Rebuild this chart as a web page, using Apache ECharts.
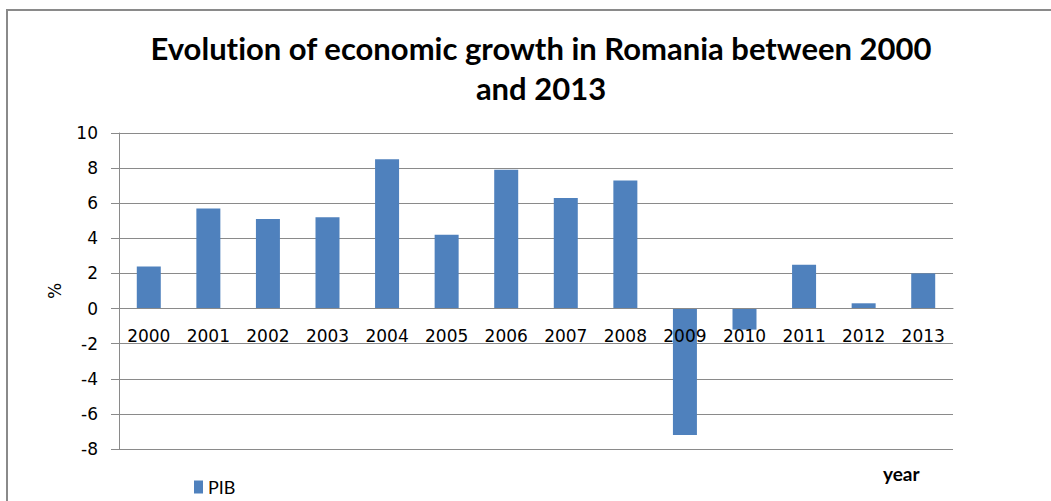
<!DOCTYPE html>
<html>
<head>
<meta charset="utf-8">
<script src="https://cdn.jsdelivr.net/npm/echarts@6/dist/echarts.min.js"></script>
<style>
  html, body { margin: 0; padding: 0; background: #fff; }
  #chart { width: 1051px; height: 501px; }
  #chart svg text { font-variant-ligatures: none; font-feature-settings: "liga" 0; }
</style>
</head>
<body>
<div id="chart"></div>
<script>
// Annual GDP growth of Romania, in percent
const years = ['2000', '2001', '2002', '2003', '2004', '2005', '2006',
               '2007', '2008', '2009', '2010', '2011', '2012', '2013'];
const pib = [2.4, 5.7, 5.1, 5.2, 8.5, 4.2, 7.9, 6.3, 7.3, -7.2, -1.2, 2.5, 0.3, 2.0];
const yTicks = { min: -8, max: 10, step: 2 };

const gridColor = '#8a8a8a';
const labelFont = 'DejaVu Sans';

// plot box
const gridTop = 133, gridBottom = 52, chartH = 501;
const plotH = chartH - gridTop - gridBottom;
// move the category axis from the bottom edge up to the value 0
const zeroFromBottom = plotH * (0 - yTicks.min) / (yTicks.max - yTicks.min);

const chart = echarts.init(document.getElementById('chart'), null, { renderer: 'svg' });

chart.setOption({
  backgroundColor: '#ffffff',
  animation: false,
  title: [
    {
      text: 'Evolution of economic growth in Romania between 2000\nand 2013',
      left: 536,
      top: 23,
      textAlign: 'center',
      textStyle: {
        fontFamily: 'Lato',
        fontWeight: 'bold',
        fontSize: 31,
        lineHeight: 40,
        color: '#000'
      }
    },
    {
      text: 'year',
      left: 878,
      top: 459,
      textStyle: {
        fontFamily: 'Lato',
        fontWeight: 'bold',
        fontSize: 19,
        color: '#000'
      }
    }
  ],
  legend: {
    left: 189,
    top: 473,
    icon: 'rect',
    itemWidth: 9,
    itemHeight: 13,
    itemGap: 4,
    textStyle: { fontFamily: 'Lato', fontSize: 18, color: '#000' },
    data: ['PIB']
  },
  grid: { left: 119, right: 98, top: gridTop, bottom: gridBottom, containLabel: false },
  xAxis: {
    type: 'category',
    data: years,
    offset: -zeroFromBottom,
    z: 5,
    axisLine: { onZero: false, lineStyle: { color: gridColor, width: 1 } },
    axisTick: { show: false },
    axisLabel: {
      margin: 19,
      fontFamily: labelFont,
      fontSize: 17,
      color: '#000'
    },
    splitLine: { show: false }
  },
  yAxis: {
    type: 'value',
    min: yTicks.min,
    max: yTicks.max,
    interval: yTicks.step,
    name: '%',
    nameLocation: 'middle',
    nameRotate: 90,
    nameGap: 56,
    nameTextStyle: { fontFamily: labelFont, fontSize: 17, color: '#000' },
    axisLine: { show: true, lineStyle: { color: gridColor, width: 1 } },
    axisTick: { show: true, length: 8, lineStyle: { color: gridColor } },
    axisLabel: {
      margin: 21,
      fontFamily: labelFont,
      fontSize: 17,
      color: '#000'
    },
    splitLine: { show: true, lineStyle: { color: gridColor, width: 1 } }
  },
  series: [
    {
      name: 'PIB',
      type: 'bar',
      data: pib,
      barWidth: 24,
      z: 2,
      itemStyle: { color: '#4F81BD' }
    }
  ],
  graphic: [
    {
      type: 'polyline',
      shape: { points: [[7, 501], [7, 10], [1051, 10]] },
      style: { stroke: '#8a8a8a', lineWidth: 2, fill: null },
      silent: true
    }
  ]
});
</script>
</body>
</html>
